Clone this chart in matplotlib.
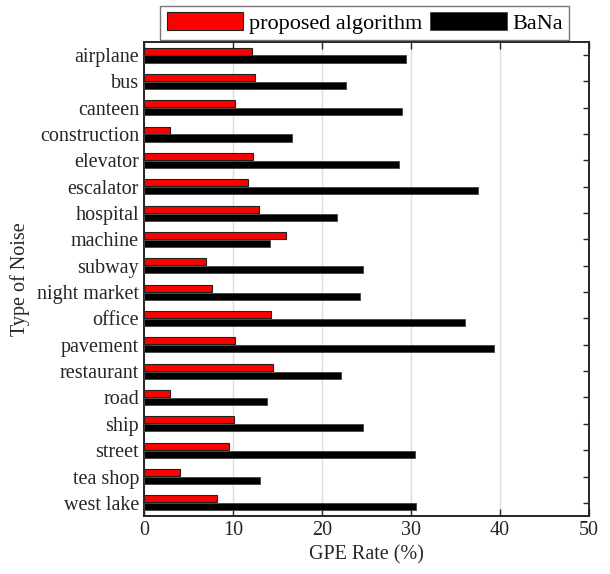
import numpy as np
import matplotlib
matplotlib.use("Agg")
import matplotlib.pyplot as plt
from matplotlib.patches import Patch

plt.rcParams['font.family'] = ['Liberation Serif', 'DejaVu Serif']

categories = ["airplane", "bus", "canteen", "construction", "elevator", "escalator",
              "hospital", "machine", "subway", "night market", "office", "pavement",
              "restaurant", "road", "ship", "street", "tea shop", "west lake"]
proposed = [12.1, 12.5, 10.2, 2.9, 12.3, 11.7, 12.9, 16.0, 7.0,
            7.6, 14.3, 10.2, 14.5, 2.9, 10.1, 9.6, 4.0, 8.2]
bana = [29.4, 22.7, 29.0, 16.6, 28.6, 37.5, 21.7, 14.2, 24.6,
        24.3, 36.1, 39.3, 22.1, 13.8, 24.6, 30.4, 13.0, 30.6]
xticks = [0, 10, 20, 30, 40, 50]

fs = 14.5
dark = '#262626'

fig = plt.figure(figsize=(6.10, 5.74), dpi=100)
ax = fig.add_axes([0.236, 0.101, 0.7296, 0.826])

y = np.arange(len(categories))
h = 0.27
off = 0.15
ax.barh(y - off, proposed, height=h, color='#ff0000', edgecolor='#222222',
        linewidth=0.8, zorder=3, label='proposed algorithm')
ax.barh(y + off, bana, height=h, color='#000000', edgecolor='#444444',
        linewidth=0.6, zorder=3, label='BaNa')

ax.set_xlim(0, 50)
ax.set_ylim(len(categories) - 0.5, -0.5)
ax.set_xticks(xticks)
ax.set_xticklabels([str(t) for t in xticks])
ax.set_yticks(y)
ax.set_yticklabels(categories)
ax.tick_params(axis='both', direction='in', labelsize=fs, colors=dark,
               top=True, right=True, length=5, width=1.0)
ax.tick_params(axis='y', length=4, pad=3.5)
ax.xaxis.grid(True, color='#dddddd', linewidth=1.0, zorder=0)
ax.set_axisbelow(True)
for s in ax.spines.values():
    s.set_color(dark)
    s.set_linewidth(1.4)

ax.set_xlabel('GPE Rate (%)', fontsize=fs, color=dark, labelpad=4)
ax.set_ylabel('Type of Noise', fontsize=fs, color=dark, labelpad=5)

handles = [Patch(facecolor='#ff0000', edgecolor='#222222', linewidth=0.8),
           Patch(facecolor='#000000', edgecolor='#444444', linewidth=0.6)]
leg = fig.legend(handles, ['proposed algorithm', 'BaNa'], ncol=2,
                 loc='center', bbox_to_anchor=(0.598, 0.960),
                 fontsize=16, frameon=True, fancybox=False,
                 handlelength=3.45, handleheight=0.85, handletextpad=0.25,
                 columnspacing=0.35, borderpad=0.3)
leg.get_frame().set_edgecolor('#555555')
leg.get_frame().set_linewidth(1.0)

fig.savefig('out.png', dpi=100)
